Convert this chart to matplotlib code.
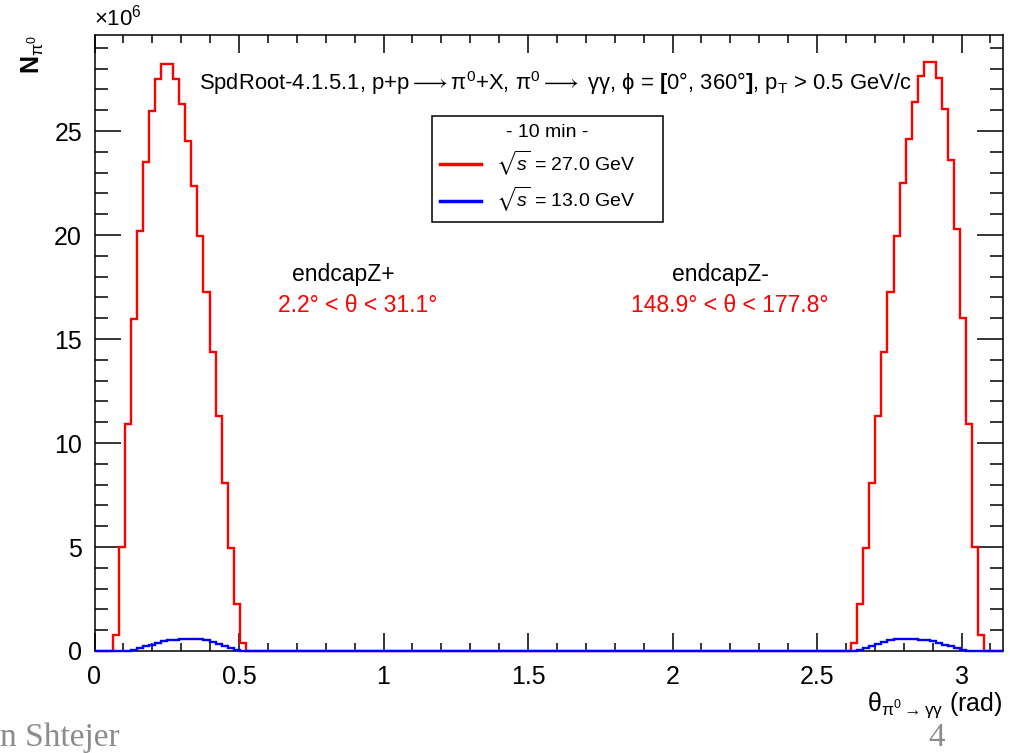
import numpy as np
import matplotlib
matplotlib.use('Agg')
import matplotlib.pyplot as plt
from matplotlib.lines import Line2D
from matplotlib.ticker import MultipleLocator

plt.rcParams['font.family'] = ['Liberation Sans', 'DejaVu Sans']
plt.rcParams['mathtext.fontset'] = 'custom'
plt.rcParams['mathtext.rm'] = 'Liberation Sans'
plt.rcParams['mathtext.it'] = 'Liberation Sans:italic'
plt.rcParams['mathtext.bf'] = 'Liberation Sans:bold'
plt.rcParams['mathtext.fallback'] = 'stix'

# histograma: 150 bins entre 0 y pi, contenido en unidades de 1e6
n_bins = 150

red_left_start = 3
red_left = [0.77, 5.01, 10.9, 15.95, 20.19, 23.52, 25.96, 27.49, 28.21, 28.21, 27.51,
            26.31, 24.53, 22.37, 19.95, 17.27, 14.36, 11.3, 8.06, 4.94, 2.26, 0.37]
red_right_start = 125
red_right = [0.37, 2.26, 4.94, 8.06, 11.3, 14.36, 17.27, 19.95, 22.49, 24.62, 26.38,
             27.66, 28.3, 28.3, 27.53, 26.06, 23.61, 20.29, 16.02, 10.9, 5.02, 0.77]

blue_left_start = 6
blue_left = [0.06, 0.14, 0.22, 0.31, 0.39, 0.46, 0.51, 0.55, 0.58, 0.59, 0.58, 0.56,
             0.52, 0.45, 0.36, 0.25, 0.14, 0.05]
blue_right_start = 126
blue_right = [0.05, 0.14, 0.25, 0.36, 0.45, 0.52, 0.56, 0.58, 0.59, 0.58, 0.55, 0.51,
              0.46, 0.39, 0.31, 0.22, 0.14, 0.06]

label_27 = r'$\sqrt{s}$ = 27.0 GeV'
label_13 = r'$\sqrt{s}$ = 13.0 GeV'

edges = np.linspace(0, np.pi, n_bins + 1)
red = np.zeros(n_bins)
red[red_left_start:red_left_start + len(red_left)] = red_left
red[red_right_start:red_right_start + len(red_right)] = red_right
blue = np.zeros(n_bins)
blue[blue_left_start:blue_left_start + len(blue_left)] = blue_left
blue[blue_right_start:blue_right_start + len(blue_right)] = blue_right

fig = plt.figure(figsize=(10.27, 7.53), dpi=100)
ax = fig.add_axes([94.5 / 1027, 1 - 651 / 753, 908 / 1027, 616 / 753])

ax.stairs(red, edges, color='#ff0000', lw=1.7, baseline=None, zorder=3, clip_on=False)
ax.stairs(blue, edges, color='#0000ff', lw=1.7, baseline=None, zorder=4, clip_on=False)

ax.set_xlim(0, np.pi)
ax.set_ylim(0, 29.62)

for s in ax.spines.values():
    s.set_linewidth(1.1)

ax.xaxis.set_major_locator(MultipleLocator(0.5))
ax.xaxis.set_minor_locator(MultipleLocator(0.1))
ax.yaxis.set_major_locator(MultipleLocator(5))
ax.yaxis.set_minor_locator(MultipleLocator(1))
ax.tick_params(which='both', direction='in', top=True, right=True, labelsize=18, width=1.1)
ax.tick_params(axis='x', which='major', length=13, pad=10)
ax.tick_params(axis='x', which='minor', length=6)
ax.tick_params(axis='y', which='major', length=19, pad=9)
ax.tick_params(axis='y', which='minor', length=9.5)
ax.xaxis.set_major_formatter(plt.FuncFormatter(lambda v, p: f'{v:g}'))

ax.set_xlabel(r'θ$_{\mathrm{π}^0{\rightarrow}\mathrm{γγ}}$ (rad)', loc='right', fontsize=18, labelpad=1)
ax.set_ylabel(r'$\mathbf{N}_{\mathrm{π}^0}$', loc='top', fontsize=18, labelpad=6)
ax.text(0, 1.008, r'$\times10^6$', transform=ax.transAxes, fontsize=16, ha='left', va='bottom')

ax.text(0.508, 0.922,
        r'SpdRoot-4.1.5.1, p+p${\longrightarrow}$π$^0$+X, π$^0$${\longrightarrow}$ γγ, ϕ = $\mathbf{[}$0°, 360°$\mathbf{]}$, p$_{\mathrm{T}}$ > 0.5 GeV/c',
        transform=ax.transAxes, ha='center', va='center', fontsize=15.8)

ax.text(0.86, 18.1, 'endcapZ+', ha='center', va='center', fontsize=16.5)
ax.text(0.912, 16.6, '2.2° < θ < 31.1°', ha='center', va='center', fontsize=16.5, color='#ff0000')
ax.text(2.164, 18.1, 'endcapZ-', ha='center', va='center', fontsize=16.5)
ax.text(2.199, 16.6, '148.9° < θ < 177.8°', ha='center', va='center', fontsize=16.5, color='#ff0000')

handles = [Line2D([], [], color='#ff0000', lw=2.5), Line2D([], [], color='#0000ff', lw=2.5)]
leg = ax.legend(handles, [label_27, label_13], title='- 10 min -', title_fontsize=14,
                fontsize=14, loc='upper left', bbox_to_anchor=(0.3717, 0.6997, 0.2543, 0.1688),
                mode='expand', borderaxespad=0, fancybox=False, edgecolor='black', framealpha=1,
                handlelength=2.1, borderpad=0.4, labelspacing=0.4, handletextpad=0.8)
leg.get_frame().set_linewidth(1.1)

fig.text(0.0, 0.0, 'n Shtejer', fontsize=24, color='#8c8c8c', family='Liberation Serif',
         ha='left', va='bottom')
fig.text(0.904, 0.0, '4', fontsize=24, color='#8c8c8c', family='Liberation Serif',
         ha='left', va='bottom')

fig.savefig('out.png', dpi=100)
